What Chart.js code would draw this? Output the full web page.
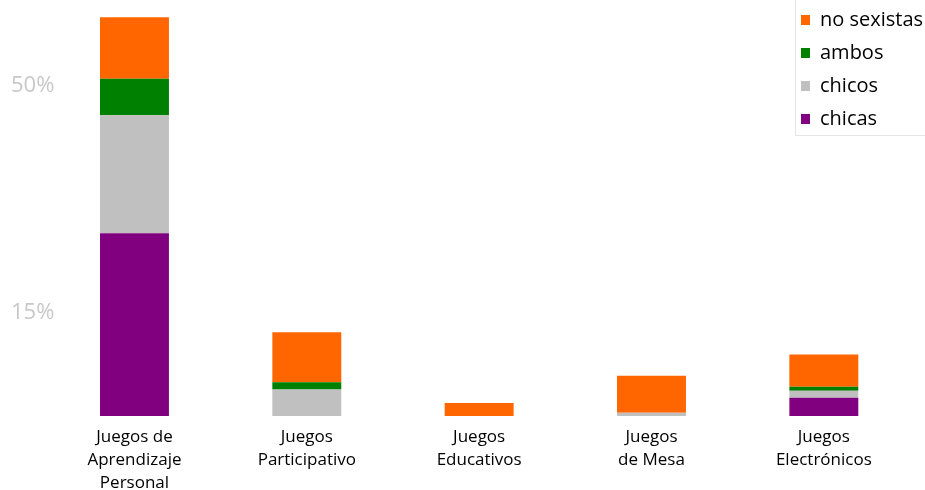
<!DOCTYPE html>
<html><head><meta charset="utf-8">
<script src="https://cdn.jsdelivr.net/npm/chart.js@4.4.1/dist/chart.umd.min.js"></script>
<style>html,body{margin:0;padding:0;background:#fff;} #wrap{width:925px;height:490px;position:relative;}</style>
</head><body><div id="wrap"><canvas id="c"></canvas></div>
<script>
const categories = [['Juegos de','Aprendizaje','Personal'],['Juegos','Participativo'],['Juegos','Educativos'],['Juegos','de Mesa'],['Juegos','Electrónicos']];
const seriesNames = ['chicas','chicos','ambos','no sexistas'];
const chicas = [28.2, 0, 0, 0, 2.8];
const chicos = [18.2, 4.1, 0, 0.5, 1.1];
const ambos = [5.6, 1.1, 0, 0, 0.6];
const noSexistas = [9.5, 7.7, 2.0, 5.7, 5.0];
const yTickValues = [15, 50];
const seriesColors = ['#800080','#C0C0C0','#008000','#FF6600'];

const seriesData = [chicas, chicos, ambos, noSexistas];
const datasets = seriesNames.map((n,i)=>({label:n,data:seriesData[i],backgroundColor:seriesColors[i],borderWidth:0}));

const legendPlacer = {
  id:'legendPlacer',
  afterLayout(chart){
    const lg = chart.legend; if(!lg) return;
    const w = lg.width, h = lg.height;
    lg.left = 788; lg.top = -3; lg.right = lg.left + w; lg.bottom = lg.top + h;
  },
  afterDraw(chart){
    const ctx = chart.ctx;
    ctx.save();
    ctx.strokeStyle = '#e4e4e4'; ctx.lineWidth = 1;
    ctx.beginPath();
    ctx.moveTo(795.5, 0); ctx.lineTo(795.5, 135.5); ctx.lineTo(925, 135.5);
    ctx.stroke();
    ctx.restore();
  }
};

Chart.defaults.font.family = "'Open Sans', 'Noto Sans', sans-serif";
new Chart(document.getElementById('c'), {
  type:'bar',
  data:{labels:categories, datasets},
  options:{
    responsive:true, maintainAspectRatio:false, animation:false,
    layout:{padding:{left:11,right:15,top:1,bottom:0}},
    datasets:{bar:{categoryPercentage:1.0, barPercentage:0.4}},
    plugins:{
      legend:{position:'chartArea', align:'start', reverse:true,
        labels:{boxWidth:9, boxHeight:10, padding:13, color:'#000', font:{size:20}}},
      tooltip:{enabled:false}
    },
    scales:{
      x:{stacked:true, grid:{display:false, drawTicks:false}, border:{display:false},
        ticks:{color:'#000', font:{size:17, lineHeight:1.35}, padding:10, maxRotation:0, autoSkip:false},
        afterFit(s){ s.height = 74; s.paddingLeft = 0; s.paddingRight = 0; }
      },
      y:{stacked:true, min:0, max:64, grid:{display:false, drawTicks:false}, border:{display:false},
        afterBuildTicks(s){ s.ticks = yTickValues.map(v=>({value:v})); },
        ticks:{color:'#c8c8c8', font:{size:22}, mirror:true, crossAlign:'near', padding:-37.3, labelOffset:-6.5, callback:v=>v+'%'},
        afterFit(s){ s.width = 37.3; s.paddingTop = 0; s.paddingBottom = 0; }
      }
    }
  },
  plugins:[legendPlacer]
});
</script></body></html>
